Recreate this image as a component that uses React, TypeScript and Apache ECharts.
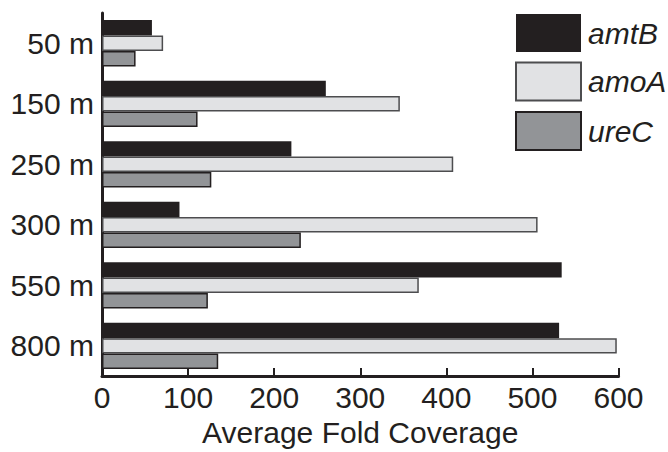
import React, { useEffect, useRef } from "react";
import * as echarts from "echarts";

const categories = ["50 m", "150 m", "250 m", "300 m", "550 m", "800 m"];
const amtB = [58, 260, 220, 90, 534, 531];
const amoA = [71, 346, 408, 506, 368, 598];
const ureC = [39, 111, 127, 231, 123, 135];
const xTicks = { min: 0, max: 600, interval: 100 };

const INK = "#231f20";
const FONT = "Liberation Sans, Arial, Helvetica, sans-serif";

export default function App() {
  const ref = useRef<HTMLDivElement>(null);
  useEffect(() => {
    if (!ref.current) return;
    const chart = echarts.init(ref.current, undefined, { renderer: "svg" });
    chart.setOption({
      animation: false,
      backgroundColor: "#ffffff",
      textStyle: { fontFamily: FONT, color: INK },
      grid: { left: 102, right: 49.5, top: 13, bottom: 70, containLabel: false },
      legend: {
        left: 515,
        top: 14,
        padding: 0,
        orient: "vertical",
        itemWidth: 65,
        itemHeight: 38,
        itemGap: 9.5,
        icon: "rect",
        selectedMode: false,
        textStyle: { fontFamily: FONT, fontSize: 30, fontStyle: "italic", color: INK, padding: [0, 0, 0, 2] },
        data: ["amtB", "amoA", "ureC"],
      },
      xAxis: {
        type: "value",
        min: xTicks.min,
        max: xTicks.max,
        interval: xTicks.interval,
        name: "Average Fold Coverage",
        nameLocation: "middle",
        nameGap: 37,
        nameTextStyle: { fontFamily: FONT, fontSize: 30, color: INK },
        axisLine: { show: true, lineStyle: { color: INK, width: 3 } },
        axisTick: { show: true, inside: true, length: 8, lineStyle: { color: INK, width: 2 } },
        axisLabel: { fontFamily: FONT, fontSize: 30, color: INK, margin: 6 },
        splitLine: { show: false },
      },
      yAxis: {
        type: "category",
        data: categories,
        inverse: true,
        axisLine: { show: true, lineStyle: { color: INK, width: 3 } },
        axisTick: { show: false },
        axisLabel: { fontFamily: FONT, fontSize: 30, color: INK, margin: 8 },
      },
      series: [
        {
          name: "amtB",
          type: "bar",
          data: amtB,
          barGap: "0%",
          barCategoryGap: "23.5%",
          itemStyle: { color: INK, borderColor: INK, borderWidth: 0 },
        },
        {
          name: "amoA",
          type: "bar",
          data: amoA,
          barGap: "0%",
          barCategoryGap: "23.5%",
          itemStyle: { color: "#e1e2e4", borderColor: "#4d4d4f", borderWidth: 1.5 },
        },
        {
          name: "ureC",
          type: "bar",
          data: ureC,
          barGap: "0%",
          barCategoryGap: "23.5%",
          itemStyle: { color: "#929497", borderColor: INK, borderWidth: 1.5 },
        },
      ],
    });
    return () => chart.dispose();
  }, []);
  return (
    <div
      ref={ref}
      style={{ position: "fixed", left: 0, top: 0, width: 668, height: 452 }}
    />
  );
}
